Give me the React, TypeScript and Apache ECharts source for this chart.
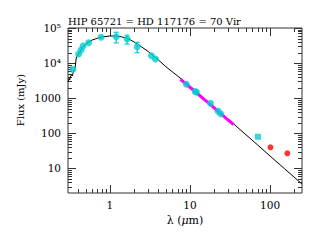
import React, { useEffect, useRef } from 'react';
import * as echarts from 'echarts';

const TITLE = 'HIP 65721 = HD 117176 = 70 Vir';
const X_MIN = 0.3;
const X_MAX = 250;
const Y_MIN = 2;
const Y_MAX = 1e5;

// Model photosphere (black line)
const modelLambda = [0.30, 0.31, 0.315, 0.32, 0.33, 0.34, 0.35, 0.36, 0.365, 0.37, 0.38, 0.39, 0.40, 0.42, 0.45, 0.5, 0.55, 0.6, 0.7, 0.8, 1.0, 1.2, 1.4, 1.6, 1.8, 2.0, 2.5, 3.0, 3.5, 4, 5, 7, 10, 15, 20, 30, 50, 70, 100, 150, 250];
const modelFlux = [2900, 3700, 3300, 4000, 4600, 4300, 5600, 6500, 7200, 8000, 14000, 15500, 17000, 21000, 26900, 35000, 40500, 45500, 51000, 55400, 59200, 58800, 56000, 51900, 46000, 40000, 28700, 21500, 16000, 12500, 7900, 4300, 2230, 1000, 565, 252, 91, 46.5, 22.5, 10, 3.6];

// IR spectrum (magenta)
const specLambda = [7.6, 8.5, 9.5, 11, 13, 15, 18, 21, 25, 29, 33, 35];
const specFlux = [3450, 2800, 2250, 1700, 1230, 930, 660, 480, 340, 255, 200, 175];

// Photometry (cyan circles)
const photLambda = [0.345, 0.407, 0.436, 0.463, 0.543, 0.776, 1.2, 1.64, 2.19, 3.3, 3.7, 9.0, 11.6, 12.0, 18.0, 22.3, 24.1];
const photFlux = [6650, 18150, 23600, 30700, 38200, 54300, 56600, 48600, 29400, 16300, 13100, 2490, 1560, 1500, 716, 432, 363];

// Error bars on photometry
const errLambda = [1.2, 1.64, 2.19];
const errFlux = [56600, 48600, 29400];
const errSigma = [19000, 13600, 9600];

// Far-IR
const squareLambda = [70.4];
const squareFlux = [80];
const redLambda = [101, 164];
const redFlux = [40, 27];

// Tick marks
const xMajorTicks = [1, 10, 100];
const xMinorTicks = [0.4, 0.5, 0.6, 0.7, 0.8, 0.9, 2, 3, 4, 5, 6, 7, 8, 9, 20, 30, 40, 50, 60, 70, 80, 90, 200];
const yMajorTicks = [10, 100, 1000, 1e4, 1e5];
const yMinorTicks = [3, 4, 5, 6, 7, 8, 9, 20, 30, 40, 50, 60, 70, 80, 90, 200, 300, 400, 500, 600, 700, 800, 900, 2000, 3000, 4000, 5000, 6000, 7000, 8000, 9000, 2e4, 3e4, 4e4, 5e4, 6e4, 7e4, 8e4, 9e4];

const SERIF = '"DejaVu Serif", serif';
const CYAN = '#00ced1';
const FRAME = '#333333';
const SUP: Record<number, string> = { 4: '\u2074', 5: '\u2075' };

const isPow10 = (v: number) => {
  const l = Math.log10(v);
  return Math.abs(l - Math.round(l)) < 1e-6;
};

export default function App() {
  const ref = useRef<HTMLDivElement>(null);
  useEffect(() => {
    if (!ref.current) return;
    const chart = echarts.init(ref.current, undefined, { renderer: 'svg' });

    const tickData: number[][] = [];
    xMajorTicks.forEach((v) => tickData.push([v, Y_MIN, 8, 0]));
    xMinorTicks.forEach((v) => tickData.push([v, Y_MIN, 4, 0]));
    yMajorTicks.forEach((v) => tickData.push([X_MIN, v, 8, 1]));
    yMinorTicks.forEach((v) => tickData.push([X_MIN, v, 4, 1]));

    chart.setOption({
      animation: false,
      title: {
        text: TITLE,
        left: 68,
        top: 16,
        padding: 0,
        textStyle: { fontFamily: SERIF, fontSize: 10, fontWeight: 'normal', color: '#000' },
      },
      grid: {
        left: 68,
        right: 17,
        top: 28,
        bottom: 49,
        show: true,
        borderColor: FRAME,
        borderWidth: 1,
        backgroundColor: 'transparent',
      },
      xAxis: {
        type: 'log',
        logBase: 10,
        min: X_MIN,
        max: X_MAX,
        axisLine: { show: false },
        axisTick: { show: false },
        splitLine: { show: false },
        axisLabel: {
          margin: 6,
          fontFamily: SERIF,
          fontSize: 10.5,
          color: '#000',
          formatter: (v: number) => (isPow10(v) ? String(Math.round(v)) : ''),
        },
      },
      yAxis: {
        type: 'log',
        logBase: 10,
        min: Y_MIN,
        max: Y_MAX,
        axisLine: { show: false },
        axisTick: { show: false },
        splitLine: { show: false },
        axisLabel: {
          margin: 7,
          fontFamily: SERIF,
          fontSize: 10.5,
          color: '#000',
          formatter: (v: number) => {
            if (!isPow10(v)) return '';
            const e = Math.round(Math.log10(v));
            return e >= 4 ? '10' + SUP[e] : String(Math.round(v));
          },
        },
      },
      graphic: [
        {
          type: 'text',
          x: 20,
          y: 100,
          rotation: Math.PI / 2,
          style: {
            text: 'Flux (mJy)',
            font: '10px "DejaVu Serif", serif',
            textAlign: 'center',
            textVerticalAlign: 'middle',
            fill: '#000',
          },
        },
        {
          type: 'text',
          x: 185,
          y: 220,
          style: {
            text: 'λ ({i|μ}m)',
            rich: { i: { fontStyle: 'italic', fontFamily: SERIF, fontSize: 11 } },
            font: '11px "DejaVu Serif", serif',
            textAlign: 'center',
            textVerticalAlign: 'middle',
            fill: '#000',
          },
        },
      ],
      series: [
        {
          type: 'custom',
          name: 'ticks',
          clip: false,
          silent: true,
          data: tickData,
          renderItem: (params: any, api: any) => {
            const x = api.value(0);
            const y = api.value(1);
            const len = api.value(2);
            const kind = api.value(3);
            const st = { stroke: FRAME, lineWidth: 1 };
            if (kind === 0) {
              const px = Math.round(api.coord([x, Y_MIN])[0]) + 0.5;
              const yb = api.coord([x, Y_MIN])[1];
              const yt = api.coord([x, Y_MAX])[1];
              return {
                type: 'group',
                children: [
                  { type: 'line', shape: { x1: px, y1: yb, x2: px, y2: yb - len }, style: st },
                  { type: 'line', shape: { x1: px, y1: yt, x2: px, y2: yt + len }, style: st },
                ],
              };
            }
            const py = Math.round(api.coord([X_MIN, y])[1]) + 0.5;
            const xl = api.coord([X_MIN, y])[0];
            const xr = api.coord([X_MAX, y])[0];
            return {
              type: 'group',
              children: [
                { type: 'line', shape: { x1: xl, y1: py, x2: xl + len, y2: py }, style: st },
                { type: 'line', shape: { x1: xr, y1: py, x2: xr - len, y2: py }, style: st },
              ],
            };
          },
        },
        {
          type: 'line',
          name: 'model',
          data: modelLambda.map((l, i) => [l, modelFlux[i]]),
          showSymbol: false,
          symbol: 'none',
          lineStyle: { color: '#000', width: 1 },
          z: 2,
        },
        {
          type: 'line',
          name: 'spectrum',
          data: specLambda.map((l, i) => [l, specFlux[i]]),
          showSymbol: false,
          symbol: 'none',
          lineStyle: { color: '#ff00ff', width: 3 },
          z: 3,
        },
        {
          type: 'custom',
          name: 'errors',
          data: errLambda.map((l, i) => [l, errFlux[i], errSigma[i]]),
          z: 4,
          renderItem: (params: any, api: any) => {
            const x = api.value(0);
            const f = api.value(1);
            const s = api.value(2);
            const top = api.coord([x, f + s]);
            const bot = api.coord([x, f - s]);
            const st = { stroke: CYAN, lineWidth: 1.2 };
            return {
              type: 'group',
              children: [
                { type: 'line', shape: { x1: top[0], y1: top[1], x2: bot[0], y2: bot[1] }, style: st },
                { type: 'line', shape: { x1: top[0] - 2.5, y1: top[1], x2: top[0] + 2.5, y2: top[1] }, style: st },
                { type: 'line', shape: { x1: bot[0] - 2.5, y1: bot[1], x2: bot[0] + 2.5, y2: bot[1] }, style: st },
              ],
            };
          },
        },
        {
          type: 'scatter',
          name: 'photometry',
          data: photLambda.map((l, i) => [l, photFlux[i]]),
          symbol: 'circle',
          symbolSize: 7,
          itemStyle: { color: CYAN },
          z: 5,
        },
        {
          type: 'scatter',
          name: 'pacs',
          data: squareLambda.map((l, i) => [l, squareFlux[i]]),
          symbol: 'rect',
          symbolSize: 6,
          itemStyle: { color: CYAN },
          z: 5,
        },
        {
          type: 'scatter',
          name: 'farir',
          data: redLambda.map((l, i) => [l, redFlux[i]]),
          symbol: 'circle',
          symbolSize: 6,
          itemStyle: { color: '#ff0000' },
          z: 5,
        },
      ],
    });
    return () => chart.dispose();
  }, []);
  return (
    <div
      ref={ref}
      style={{ position: 'fixed', left: 0, top: 0, width: 319, height: 242, background: '#fff' }}
    />
  );
}
